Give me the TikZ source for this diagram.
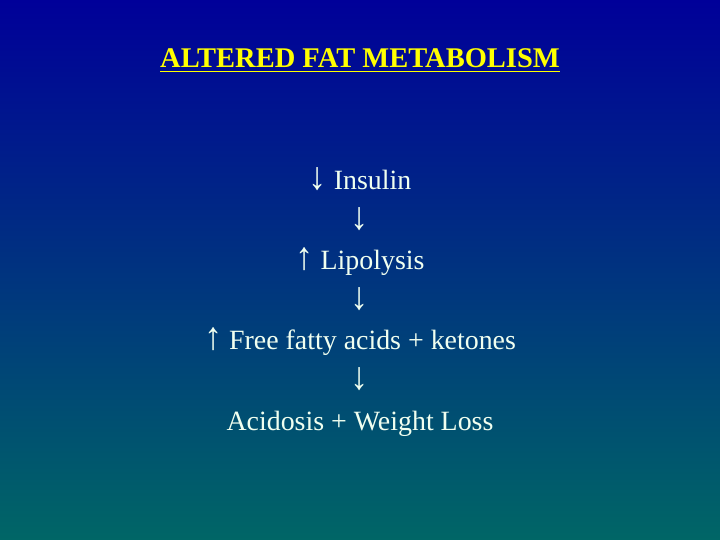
\documentclass[tikz,border=0pt]{standalone}
\usepackage{fontspec}
\setmainfont{Liberation Serif}
\newcommand{\dnarr}{\scalebox{1.3}[1.4]{↓}}
\newcommand{\uparr}{\scalebox{1.3}[1.4]{↑}}
\begin{document}
\begin{tikzpicture}[x=1bp,y=1bp,
  bodytext/.style={text=textc, font=\fontsize{28}{30}\selectfont, inner sep=0pt, anchor=base},
  titletext/.style={text=titlec, font=\fontsize{28.6}{30}\selectfont\bfseries, inner sep=0pt, anchor=base}]
\definecolor{topc}{RGB}{0,0,153}
\definecolor{botc}{RGB}{0,102,102}
\definecolor{textc}{RGB}{240,255,240}
\definecolor{titlec}{RGB}{255,255,0}
\shade[top color=topc, bottom color=botc] (0,0) rectangle (720,540);
\useasboundingbox (0,0) rectangle (720,540);
\node[titletext] (title) at (360,472.5) {ALTERED FAT METABOLISM};
\draw[titlec, line width=1.6bp] ([yshift=-4bp]title.base west) -- ([yshift=-4bp]title.base east);
\node[bodytext] (l1) at (360,350.5) {\dnarr\ Insulin};
\node[bodytext] (a1) at (360,310) {\dnarr};
\node[bodytext] (l2) at (360,270) {\uparr\ Lipolysis};
\node[bodytext] (a2) at (360,230) {\dnarr};
\node[bodytext] (l3) at (360,190) {\uparr\ Free fatty acids + ketones};
\node[bodytext] (a3) at (360,150) {\dnarr};
\node[bodytext] (l4) at (360,109.5) {Acidosis + Weight Loss};
\end{tikzpicture}
\end{document}
